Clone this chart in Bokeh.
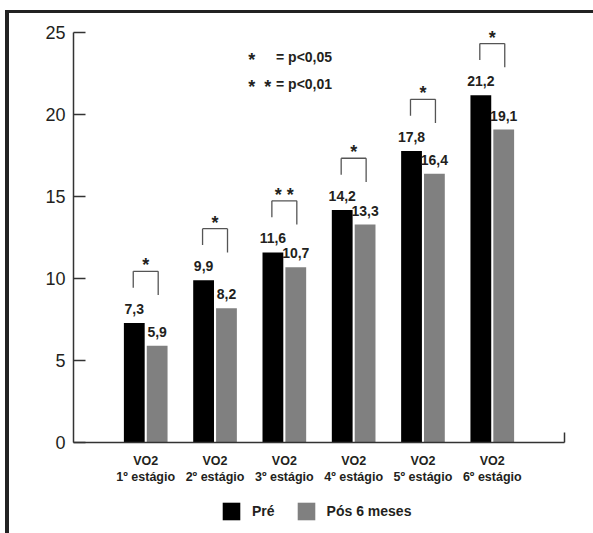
from bokeh.plotting import figure
from bokeh.layouts import column
from bokeh.models import Range1d, FixedTicker, Legend, LegendItem, ColumnDataSource, Label
from bokeh.core.properties import value
from bokeh.embed import file_html
from bokeh.resources import INLINE

# ---- data ----
stages = ["1º estágio", "2º estágio", "3º estágio", "4º estágio", "5º estágio", "6º estágio"]
pre = [7.3, 9.9, 11.6, 14.2, 17.8, 21.2]
pos = [5.9, 8.2, 10.7, 13.3, 16.4, 19.1]
signif = ["*", "*", "* *", "*", "*", "*"]
series_names = ["Pré", "Pós 6 meses"]
y_ticks = [0, 5, 10, 15, 20, 25]

FONT = "Liberation Sans"
TXT = "#231f20"
BLACK = "#000000"
GRAY = "#808080"

xs = list(range(1, len(stages) + 1))
W, H = 584, 486

p = figure(width=W, height=H, output_backend="svg", toolbar_location=None,
           x_range=Range1d(-0.042, 7.042), y_range=Range1d(0, 25.76),
           min_border_left=64, min_border_right=29, min_border_top=7, min_border_bottom=57)
p.title.visible = False
p.outline_line_color = None
p.xgrid.visible = False
p.ygrid.visible = False

off = 0.165
bw = 0.30
src = ColumnDataSource(dict(
    x=xs,
    xb=[x - off for x in xs],
    xg=[x + off for x in xs],
    pre=pre, pos=pos,
    pre_lbl=[f"{v:.1f}".replace(".", ",") for v in pre],
    pos_lbl=[f"{v:.1f}".replace(".", ",") for v in pos],
    sig=signif,
    btop=[v + 3.15 for v in pre],
    bl=[v + 2.15 for v in pre],
    br=[v + 1.7 for v in pre],
    xl=[x - 0.18 for x in xs],
    xr=[x + 0.18 for x in xs],
))

p.vbar(x="xb", top="pre", width=bw, bottom=0, source=src, fill_color=BLACK, line_color=None)
p.vbar(x="xg", top="pos", width=bw, bottom=0, source=src, fill_color=GRAY, line_color=None)

# value labels
for xcol, lcol, ycol in (("xb", "pre_lbl", "pre"), ("xg", "pos_lbl", "pos")):
    p.text(x=xcol, y=ycol, text=lcol, source=src, text_font=value(FONT), text_font_style="bold",
           text_font_size="14px", text_color=TXT, text_align="center", text_baseline="alphabetic",
           y_offset=-14)

# significance brackets
bc = "#555555"
p.segment(x0="xl", y0="bl", x1="xl", y1="btop", source=src, line_color=bc, line_width=1.3)
p.segment(x0="xl", y0="btop", x1="xr", y1="btop", source=src, line_color=bc, line_width=1.3)
p.segment(x0="xr", y0="br", x1="xr", y1="btop", source=src, line_color=bc, line_width=1.3)
p.text(x="x", y="btop", text="sig", source=src, text_font=value(FONT), text_font_style="bold",
       text_font_size="18px", text_color=TXT, text_align="center", text_baseline="alphabetic",
       y_offset=-6)

# p-value key
key_style = dict(text_font=FONT, text_font_style="bold", text_font_size="14px",
                 text_color=TXT, text_baseline="middle")
star_style = dict(key_style, text_font_size="18px", y_offset=-3)
p.add_layout(Label(x=2.48, y=23.56, text="*", **star_style))
p.add_layout(Label(x=2.88, y=23.56, text="= p<0,05", **key_style))
p.add_layout(Label(x=2.48, y=21.91, text="*", **star_style))
p.add_layout(Label(x=2.71, y=21.91, text="*", **star_style))
p.add_layout(Label(x=2.88, y=21.91, text="= p<0,01", **key_style))

# axes
p.yaxis.ticker = FixedTicker(ticks=y_ticks)
p.yaxis.bounds = (0, 25)
p.yaxis.major_tick_in = 12
p.yaxis.major_tick_out = 0
p.yaxis.minor_tick_line_color = None
p.yaxis.major_label_standoff = 8
p.yaxis.major_label_text_font = FONT
p.yaxis.major_label_text_font_size = "18px"
p.yaxis.major_label_text_color = TXT
p.yaxis.axis_line_color = "#333333"
p.yaxis.axis_line_width = 1.5
p.yaxis.major_tick_line_color = "#333333"
p.yaxis.major_tick_line_width = 1.5

p.xaxis.ticker = FixedTicker(ticks=xs, minor_ticks=[7.035])
p.xaxis.major_label_overrides = {x: f"VO2\n{s}" for x, s in zip(xs, stages)}
p.xaxis.major_tick_in = 0
p.xaxis.major_tick_out = 0
p.xaxis.minor_tick_in = 10
p.xaxis.minor_tick_out = 0
p.xaxis.minor_tick_line_color = "#333333"
p.xaxis.minor_tick_line_width = 1.5
p.xaxis.major_label_standoff = 11
p.xaxis.major_label_text_font = FONT
p.xaxis.major_label_text_font_style = "bold"
p.xaxis.major_label_text_font_size = "12.5px"
p.xaxis.major_label_text_color = TXT
p.xaxis.axis_line_color = "#333333"
p.xaxis.axis_line_width = 1.5

# legend strip below the chart (its frame is aligned with the main frame)
pl = figure(width=W, height=34, output_backend="svg", toolbar_location=None,
            x_range=Range1d(0, 1), y_range=Range1d(0, 1),
            x_axis_location=None, y_axis_location=None,
            min_border_left=0, min_border_right=0, min_border_top=0, min_border_bottom=0)
pl.title.visible = False
pl.outline_line_color = None
pl.xgrid.visible = False
pl.ygrid.visible = False
d1 = pl.vbar(x=[0.5], top=[0], bottom=[0], width=0.1, fill_color=BLACK, line_color=None)
d2 = pl.vbar(x=[0.5], top=[0], bottom=[0], width=0.1, fill_color=GRAY, line_color=None)
legend = Legend(items=[LegendItem(label=series_names[0], renderers=[d1]),
                       LegendItem(label=series_names[1], renderers=[d2])],
                location=(147, 11), orientation="horizontal",
                glyph_width=22, glyph_height=22, label_standoff=10, spacing=20,
                padding=0, margin=0, border_line_color=None, background_fill_alpha=0,
                label_text_font=FONT, label_text_font_style="bold", label_text_font_size="14px",
                label_text_color=TXT)
pl.add_layout(legend, "center")

layout = column(p, pl, spacing=0)
layout.styles = {"margin-left": "5px", "margin-top": "10px",
                 "border-left": "4px solid #222222", "border-top": "3px solid #222222"}

open("out.html", "w").write(file_html(layout, INLINE))
